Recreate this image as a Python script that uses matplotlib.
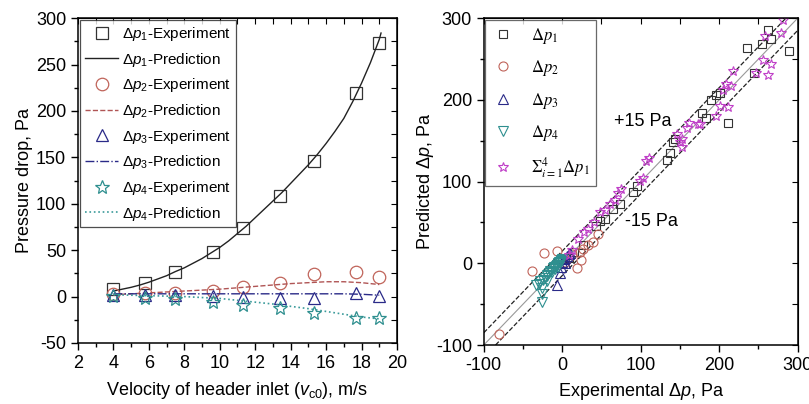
import matplotlib.pyplot as plt
from matplotlib.font_manager import FontProperties
from matplotlib.ticker import MultipleLocator

plt.rcParams['font.family'] = ['Liberation Sans', 'DejaVu Sans']
plt.rcParams['axes.unicode_minus'] = False
plt.rcParams['mathtext.fontset'] = 'custom'
plt.rcParams['mathtext.rm'] = 'Liberation Sans'
plt.rcParams['mathtext.it'] = 'Liberation Sans:italic'
plt.rcParams['mathtext.bf'] = 'Liberation Sans:bold'

# ---- left panel: pressure drop vs inlet velocity ----
v_exp = [4.0, 5.8, 7.5, 9.6, 11.3, 13.4, 15.3, 17.7, 19.0]
p1_exp = [8, 15, 27, 48, 74, 108, 146, 219, 273]
p2_exp = [3, 4, 4, 6, 10, 15, 24, 27, 21]
p3_exp = [2, 2, 2, 1, 0, -2, -1, 4, 1]
p4_exp = [1, -1, -3, -6, -9, -12, -18, -23, -23]

v_pred = [4, 4.5, 5, 5.5, 6, 6.5, 7, 7.5, 8, 8.5, 9, 9.5, 10, 10.5, 11, 11.5,
          12, 12.5, 13, 13.5, 14, 14.5, 15, 15.5, 16, 16.5, 17, 17.5, 18, 18.5, 19, 19.1]
p1_pred = [6, 8, 10, 12.5, 15.5, 19, 22.5, 27, 31, 36, 41, 47, 53, 60, 68, 76,
           85, 94, 103, 112, 122, 132, 142, 153, 165, 178, 192, 210, 230, 252, 277, 284]
v_pred2 = [4, 5, 6, 7, 8, 9, 10, 11, 12, 13, 14, 15, 16, 17, 18, 19]
p2_pred = [2, 3, 4, 5, 6, 7, 8, 9.5, 11, 12.5, 14, 15, 16, 16, 15, 13]
p3_pred = [3, 3, 3, 3, 3, 3, 3, 3, 3, 3, 3, 3, 3, 3, 2.5, 1.5]
p4_pred = [2, 1.5, 1, 0.5, 0, -1, -2, -4, -6, -8, -10.5, -13, -16, -19, -22, -24]

# ---- right panel: predicted vs experimental ----
s1_exp = [8, 15, 27, 43, 48, 55, 65, 73, 90, 95, 133, 137, 141, 144, 178, 183, 190, 196, 201, 211, 235, 244, 255, 262, 266, 289]
s1_pred = [6, 14, 23, 46, 52, 54, 67, 73, 87, 95, 127, 135, 148, 152, 184, 178, 200, 206, 209, 172, 263, 233, 269, 285, 275, 260]
s2_exp = [-80, -38, -23, -7, 3, 8, 12, 19, 22, 24, 27, 33, 39, 46]
s2_pred = [-87, -9, 13, 15, 2, 8, 12, -6, 14, 4, 18, 22, 26, 36]
s3_exp = [-7, -3, -1, 0, 2, 4, 6, 8, 10, 3]
s3_pred = [-27, -12, -5, 2, 5, 7, 9, 11, 13, 0]
s4_exp = [-34, -30, -28, -26, -26, -24, -22, -20, -19, -17, -16, -14, -13, -12, -10, -9, -8, -7, -6, -5, -4, -3, -2, -1, 0, -26, -20]
s4_pred = [-27, -25, -22, -37, -47, -20, -18, -14, -16, -12, -10, -9, -11, -6, -5, -7, -3, -2, -4, 0, 1, 2, 3, 4, 5, -30, -22]
sum_exp = [8, 12, 20, 28, 33, 40, 48, 55, 61, 67, 71, 75, 99, 103, 107, 111, 146, 150, 152, 153, 159, 162, 173, 175, 196, 201, 205, 209, 211, 215, 218, 247, 256, 258, 262, 266, 279, 281]
sum_pred = [10, 16, 30, 38, 42, 50, 63, 65, 73, 77, 86, 91, 101, 105, 125, 129, 158, 148, 142, 152, 166, 172, 170, 170, 180, 192, 212, 219, 191, 217, 235, 233, 249, 278, 231, 244, 282, 298]
ref_range = [-100, 300]
band = 15

c_sq = '#333333'
c_ci = '#c0645a'
c_tr = '#2a2a88'
c_st = '#2e8f8f'
c_sum = '#c040c8'

fig = plt.figure(figsize=(8.09, 4.04), dpi=100)
ax1 = fig.add_axes([0.0964, 0.151, 0.3943, 0.804])
ax2 = fig.add_axes([0.598, 0.146, 0.388, 0.809])


def style_axes(ax, xmaj, xmin, ymaj, ymin):
    ax.xaxis.set_major_locator(MultipleLocator(xmaj))
    ax.xaxis.set_minor_locator(MultipleLocator(xmin))
    ax.yaxis.set_major_locator(MultipleLocator(ymaj))
    ax.yaxis.set_minor_locator(MultipleLocator(ymin))
    ax.tick_params(which='major', direction='out', length=5, width=1, labelsize=13)
    ax.tick_params(which='minor', direction='out', length=3, width=1)
    for sp in ax.spines.values():
        sp.set_linewidth(1.1)
    top = ax.secondary_xaxis('top')
    top.xaxis.set_major_locator(MultipleLocator(xmin))
    top.tick_params(direction='in', length=4, labeltop=False)
    right = ax.secondary_yaxis('right')
    right.yaxis.set_major_locator(MultipleLocator(ymin))
    right.tick_params(direction='in', length=4, labelright=False)


# left panel
mk = dict(linestyle='none', markerfacecolor='none', markeredgewidth=0.9)
ax1.plot(v_exp, p1_exp, marker='s', ms=8, color=c_sq, label=r'$\Delta p_1$-Experiment', **mk)
ax1.plot(v_pred, p1_pred, '-', color='#222222', lw=1.0, label=r'$\Delta p_1$-Prediction')
ax1.plot(v_exp, p2_exp, marker='o', ms=9, color=c_ci, label=r'$\Delta p_2$-Experiment', **mk)
ax1.plot(v_pred2, p2_pred, '--', color='#b05555', lw=1.0, label=r'$\Delta p_2$-Prediction')
ax1.plot(v_exp, p3_exp, marker='^', ms=9, color=c_tr, label=r'$\Delta p_3$-Experiment', **mk)
ax1.plot(v_pred2, p3_pred, '-.', color=c_tr, lw=1.0, label=r'$\Delta p_3$-Prediction')
ax1.plot(v_exp, p4_exp, marker='*', ms=10, color=c_st, label=r'$\Delta p_4$-Experiment', **mk)
ax1.plot(v_pred2, p4_pred, ':', color='#3a9a9a', lw=1.2, label=r'$\Delta p_4$-Prediction')

ax1.set_xlim(2, 20)
ax1.set_ylim(-50, 300)
style_axes(ax1, 2, 1, 50, 25)
ax1.set_xlabel(r'Velocity of header inlet ($v_{\rm c0}$), m/s', fontsize=13, labelpad=6)
ax1.set_ylabel('Pressure drop, Pa', fontsize=13, labelpad=2)
leg1 = ax1.legend(loc='upper left', fontsize=11, frameon=True, fancybox=False,
                  edgecolor='#222222', borderaxespad=0.15, handlelength=2.2,
                  handletextpad=0.25, labelspacing=0.5, borderpad=0.3)
leg1.get_frame().set_linewidth(0.9)

# right panel
ax2.plot(ref_range, ref_range, '-', color='#999999', lw=0.8)
ax2.plot([ref_range[0], ref_range[1] - band], [ref_range[0] + band, ref_range[1]], '--', color='#222222', lw=0.9)
ax2.plot([ref_range[0] + band, ref_range[1]], [ref_range[0], ref_range[1] - band], '--', color='#222222', lw=0.9)

sm = dict(linestyle='none', markerfacecolor='none', markeredgewidth=0.8)
ax2.plot(s1_exp, s1_pred, marker='s', ms=6, color=c_sq, label=r'$\Delta p_1$', **sm)
ax2.plot(s2_exp, s2_pred, marker='o', ms=6.5, color=c_ci, label=r'$\Delta p_2$', **sm)
ax2.plot(s3_exp, s3_pred, marker='^', ms=6.5, color=c_tr, label=r'$\Delta p_3$', **sm)
ax2.plot(s4_exp, s4_pred, marker='v', ms=6.5, color=c_st, label=r'$\Delta p_4$', **sm)
ax2.plot(sum_exp, sum_pred, marker='*', ms=7.5, color=c_sum, label=r'$\Sigma_{i=1}^{4}\Delta p_1$', **sm)

ax2.set_xlim(-100, 300)
ax2.set_ylim(-100, 300)
style_axes(ax2, 100, 50, 100, 50)
ax2.set_xlabel(r'Experimental $\Delta p$, Pa', fontsize=13, labelpad=5)
ax2.set_ylabel(r'Predicted $\Delta p$, Pa', fontsize=13, labelpad=0)
ax2.text(102, 173, '+15 Pa', fontsize=13, ha='center', va='center')
ax2.text(114, 51, '-15 Pa', fontsize=13, ha='center', va='center')

leg_font = FontProperties(family='Liberation Serif', size=12, math_fontfamily='stix')
leg2 = ax2.legend(loc='upper left', prop=leg_font, frameon=True, fancybox=False,
                  edgecolor='#444444', borderaxespad=0.1, handlelength=1.4,
                  handletextpad=1.0, labelspacing=0.75, borderpad=0.35)
leg2.get_frame().set_linewidth(0.9)

fig.savefig('out.png', dpi=100, facecolor='white')
